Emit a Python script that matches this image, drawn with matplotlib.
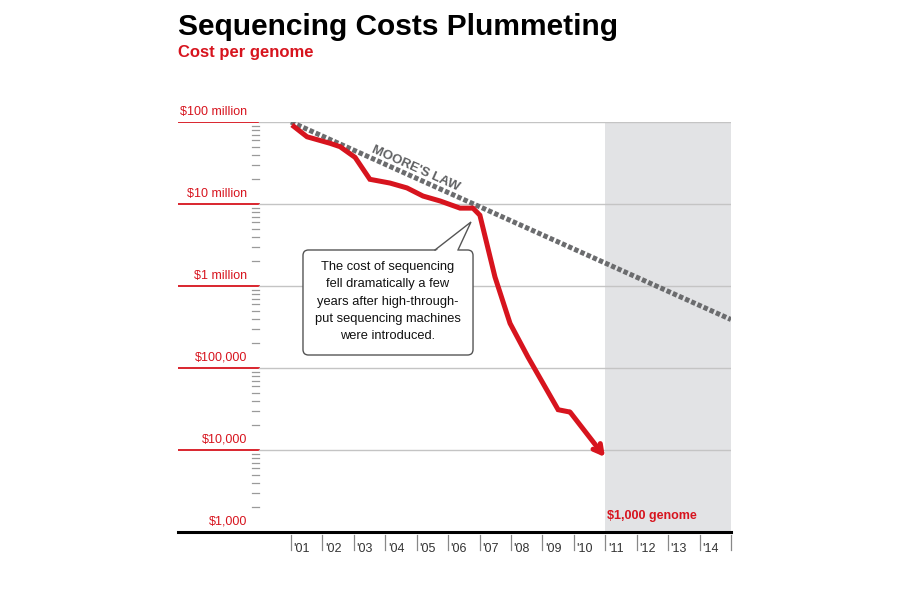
import matplotlib
matplotlib.use('Agg')
from matplotlib import pyplot as plt
from matplotlib.patches import FancyBboxPatch, Polygon
import numpy as np

plt.rcParams['font.family'] = ['Liberation Sans', 'DejaVu Sans']

# cost per genome
years = [2001.03, 2001.51, 2002.24, 2002.56, 2003.04, 2003.51, 2004.15, 2004.69,
         2005.20, 2005.74, 2006.38, 2006.79, 2007.01, 2007.49, 2007.97, 2008.54,
         2009.50, 2009.88, 2010.99]
cost = [9.2e7, 6.6e7, 5.5e7, 5.0e7, 3.7e7, 2.0e7, 1.8e7, 1.57e7,
        1.25e7, 1.09e7, 8.9e6, 8.9e6, 7.3e6, 1.29e6, 3.5e5, 1.36e5,
        3.1e4, 2.9e4, 8.2e3]

moore_years = [2001.0, 2015.0]
moore_cost = [1.0e8, 3.9e5]

y_ticks = [1e3, 1e4, 1e5, 1e6, 1e7, 1e8]
y_labels = ['$1,000', '$10,000', '$100,000', '$1 million', '$10 million', '$100 million']
year_ticks = list(range(2001, 2016))
year_labels = ["'01", "'02", "'03", "'04", "'05", "'06", "'07", "'08", "'09", "'10",
               "'11", "'12", "'13", "'14"]

RED = '#d7141e'
GREY = '#6b6c6e'

fig = plt.figure(figsize=(9, 6.06), dpi=100)
ax = fig.add_axes([0.1978, 0.1221, 0.6144, 0.6766])
ax.set_yscale('log')
ax.set_xlim(1997.405, 2015)
ax.set_ylim(1e3, 1e8)
ax.axis('off')

# shaded future region
ax.axvspan(2011, 2015, color='#e2e3e5', lw=0, zorder=0)

# grid lines + labels
for v, lab in zip(y_ticks, y_labels):
    if v > 1e3:
        ax.plot([1997.405, 1999.98], [v, v], color=RED, lw=1.3, zorder=1)
        ax.plot([1999.98, 2015], [v, v], color='#c4c4c4', lw=1.0, zorder=1)
    ax.annotate(lab, (1999.60, v), xytext=(0, 3), textcoords='offset points',
                ha='right', va='bottom', color=RED, fontsize=9)

# minor ticks
for d in y_ticks[:-1]:
    for m in range(2, 10):
        ax.plot([1999.76, 1999.98], [d * m, d * m], color='#9a9a9a', lw=0.9, zorder=1)

# baseline
ax.plot([1997.405, 2015], [1e3, 1e3], color='black', lw=2.2, zorder=3, clip_on=False)

# year ticks and labels
tr = ax.get_xaxis_transform()
for yr in year_ticks:
    ax.plot([yr, yr], [-0.008, -0.044], transform=tr, color='#888888', lw=0.9, clip_on=False)
for yr, lab in zip(year_ticks, year_labels):
    ax.text(yr + 0.08, -0.049, lab, transform=tr, ha='left', va='baseline',
            fontsize=9, color='#333333')

# Moore's law
ax.plot(moore_years, moore_cost, color=GREY, lw=3.6, dashes=(0.9, 0.45),
        dash_capstyle='butt', zorder=4)
ax.text(2004.95, 2.7e7, "MOORE'S LAW", rotation=-24.1, rotation_mode='anchor',
        ha='center', va='center', fontsize=9.5, fontweight='bold', color='#5f6062')

# sequencing cost
ax.plot(years[:-1], cost[:-1], color=RED, lw=3.6, solid_joinstyle='miter',
        solid_capstyle='butt', zorder=5)
ax.annotate('', xy=(years[-1], cost[-1]), xytext=(years[-2], cost[-2]),
            arrowprops=dict(arrowstyle='->,head_length=0.6,head_width=0.33',
                            color=RED, lw=3.6, shrinkA=0, shrinkB=0), zorder=5)

ax.text(2011.05, 1.55e3, '$1,000 genome', color=RED, fontsize=9,
        fontweight='bold', ha='left', va='center')

# callout box
x0, x1, y0, y1 = 0.226, 0.5335, 0.4317, 0.6878
box = FancyBboxPatch((x0, y0), x1 - x0, y1 - y0,
                     boxstyle='round,pad=0,rounding_size=0.01',
                     mutation_aspect=553 / 410, transform=ax.transAxes,
                     facecolor='white', edgecolor='#555555', lw=1.0, zorder=6)
ax.add_patch(box)
tail = [(0.4647, y1 - 0.004), (0.5298, 0.7561), (0.5063, y1 - 0.004)]
ax.add_patch(Polygon(tail, closed=True, transform=ax.transAxes,
                     facecolor='white', edgecolor='none', zorder=7))
ax.plot([0.4647, 0.5298, 0.5063], [y1, 0.7561, y1], transform=ax.transAxes,
        color='#555555', lw=1.0, zorder=7, solid_joinstyle='miter')
ax.text((x0 + x1) / 2, (y0 + y1) / 2 + 0.002,
        'The cost of sequencing\nfell dramatically a few\nyears after high-through-\n'
        'put sequencing machines\nwere introduced.',
        transform=ax.transAxes, ha='center', va='center', fontsize=9.3,
        linespacing=1.6, color='#111111', zorder=8)

# titles
fig.text(178 / 900, 1 - 35 / 606, 'Sequencing Costs Plummeting', fontsize=21.5,
         fontweight='bold', ha='left', va='baseline')
fig.text(178 / 900, 1 - 57 / 606, 'Cost per genome', fontsize=12,
         fontweight='bold', color=RED, ha='left', va='baseline')

fig.savefig('out.png', dpi=100)
